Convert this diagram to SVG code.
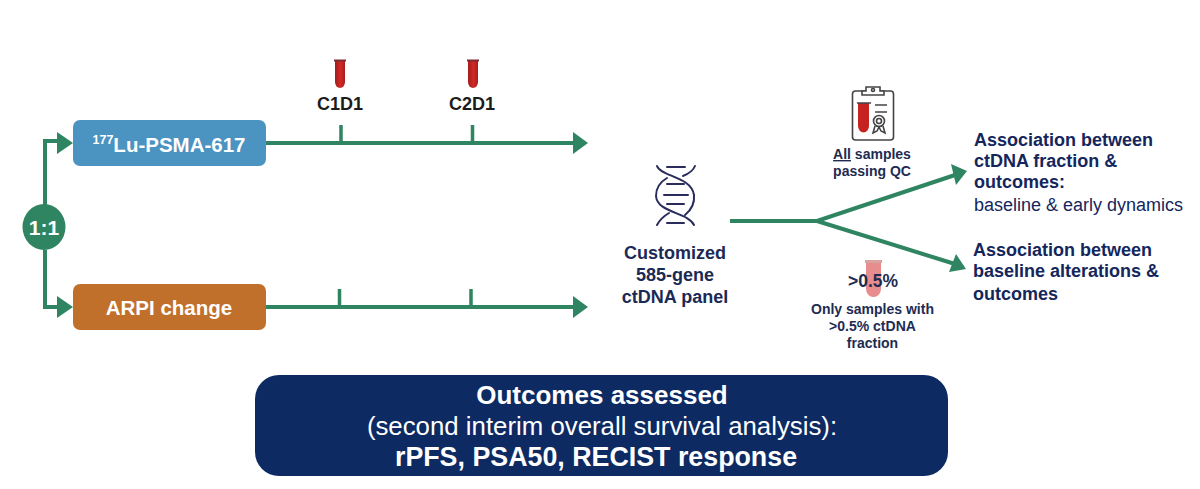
<svg xmlns="http://www.w3.org/2000/svg" width="1200" height="489" viewBox="0 0 1200 489">
<style>
text{font-family:"Liberation Sans",Arial,sans-serif}
.conn{fill:none;stroke:#2f8561;stroke-width:4}
.arrow{fill:#2f8561}
.tick{fill:none;stroke:#2f8561;stroke-width:3.5}
.lbl{font-weight:700;fill:#fff;text-anchor:middle}
.navy{fill:#1b2a55;text-anchor:middle;font-weight:700}
.head{fill:#14265c;font-weight:700;font-size:18px}
.cap{fill:#1e2b52;font-weight:700;font-size:14px;text-anchor:middle}
.time{fill:#1c1c1c;font-weight:700;font-size:18px;text-anchor:middle}
.out{fill:#fff;text-anchor:middle}
.helix{fill:none;stroke:#2a2d5c;stroke-width:2;stroke-linecap:round}
.icon{fill:none;stroke:#444;stroke-width:1.600}
</style>
<defs>
<linearGradient id="tubeFill" x1="0" x2="1" y1="0" y2="0">
<stop offset="0" stop-color="#a51c1c"/><stop offset=".55" stop-color="#d02a26"/><stop offset="1" stop-color="#a81d1d"/>
</linearGradient>
<g id="tube">
<path d="M-5 0V22a5 6 0 0 0 10 0V0Z" fill="url(#tubeFill)"/>
<rect x="-6" y="-.5" width="12" height="2" fill="#7d2b30"/>
</g>
</defs>
<rect width="1200" height="489" fill="#fff"/>

<g id="connectors">
<path class="conn" d="M45 205V141H60M45 250V307H60"/>
<path class="arrow" d="M57 132L73 143L57 154ZM57 296L73 307L57 318Z"/>
<path class="conn" d="M266 143H576M266 307H576"/>
<path class="arrow" d="M573 132L588 143L573 154ZM573 296L588 307L573 318Z"/>
<path class="tick" d="M341 125V143M472.500 125V143M339.500 289V307M471 289V307"/>
<path class="conn" d="M730 221H817L955 175M817 221L955 264" stroke-width="4.500"/>
<path class="arrow" d="M951 164L967 171L956 185ZM956 254L966 269L949 272Z"/>
</g>

<g id="randomisation">
<ellipse cx="44" cy="227" rx="21.500" ry="23" fill="#2f8561"/>
<text class="lbl" x="44" y="235" font-size="21">1:1</text>
</g>

<g id="arm-lu">
<rect x="73" y="120" width="193" height="46" rx="7" fill="#4b93c1"/>
<text class="lbl" x="169" y="152" font-size="20.500"><tspan font-size="12.500" dy="-8">177</tspan><tspan dy="8">Lu-PSMA-617</tspan></text>
</g>
<g id="arm-arpi">
<rect x="73" y="284" width="193" height="46" rx="7" fill="#c1702c"/>
<text class="lbl" x="169" y="315" font-size="20.500">ARPI change</text>
</g>

<g id="c1d1">
<use href="#tube" x="340" y="60"/>
<text class="time" x="340" y="110">C1D1</text>
</g>
<g id="c2d1">
<use href="#tube" x="473" y="60"/>
<text class="time" x="472" y="110">C2D1</text>
</g>

<g id="panel">
<path class="helix" d="M657 166C661 177 691 176 694 195C695 205 690 211 685 215M695 166C693 171 688 174 683 176M667 178C660 182 656 188 656 196C657 213 688 212 694 225M657 225C660 219 664 216 669 213"/>
<path class="helix" d="M667 167H685M667 184H684M664 195H688M667 204H684M667 223H684"/>
<g class="navy" font-size="18">
<text x="675" y="259">Customized</text>
<text x="675" y="281">585-gene</text>
<text x="675" y="303">ctDNA panel</text>
</g>
</g>

<g id="qc">
<rect class="icon" x="852.500" y="91" width="41" height="49" rx="3"/>
<path d="M862 95V91H866V87H880V91H884V95Z" fill="#fff" stroke="#444" stroke-width="1.600"/>
<circle class="icon" cx="873" cy="90" r="1.500"/>
<path d="M858 103H869V126a5.500 6.500 0 0 1-11 0Z" fill="#c4231f"/>
<path class="icon" d="M857 103H871M875 105H887M875 112H887"/>
<circle class="icon" cx="879" cy="121" r="5.500"/>
<circle class="icon" cx="879" cy="121" r="2.500"/>
<path class="icon" d="M875 126L873 133L877 131L879 127L881 131L885 133L883 126"/>
<text class="cap" x="872" y="159"><tspan text-decoration="underline">All</tspan> samples</text>
<text class="cap" x="872" y="176">passing QC</text>
</g>

<g id="threshold">
<path d="M866 262V289a7.500 8 0 0 0 15 0V262Z" fill="#e88d8d"/>
<rect x="865" y="260" width="17" height="3" fill="#d9a3a0"/>
<text x="873" y="287" fill="#1e2b52" font-weight="700" font-size="17.500" text-anchor="middle">&gt;0.5%</text>
<text class="cap" x="872.500" y="314">Only samples with</text>
<text class="cap" x="872.500" y="331">&gt;0.5% ctDNA</text>
<text class="cap" x="872.500" y="348">fraction</text>
</g>

<g id="result-fraction">
<text class="head" x="974" y="146">Association between</text>
<text class="head" x="974" y="167">ctDNA fraction &amp;</text>
<text class="head" x="974" y="188">outcomes:</text>
<text x="974" y="211" fill="#14265c" font-size="18">baseline &amp; early dynamics</text>
</g>
<g id="result-alterations">
<text class="head" x="973" y="256">Association between</text>
<text class="head" x="973" y="277">baseline alterations &amp;</text>
<text class="head" x="973" y="300">outcomes</text>
</g>

<g id="outcomes">
<rect x="255" y="375" width="693" height="101" rx="24" fill="#0d2a63"/>
<text class="out" x="602" y="404" font-weight="700" font-size="26">Outcomes assessed</text>
<text class="out" x="602" y="435" font-size="25.800">(second interim overall survival analysis):</text>
<text class="out" x="596" y="466" font-weight="700" font-size="26.800">rPFS, PSA50, RECIST response</text>
</g>
</svg>
